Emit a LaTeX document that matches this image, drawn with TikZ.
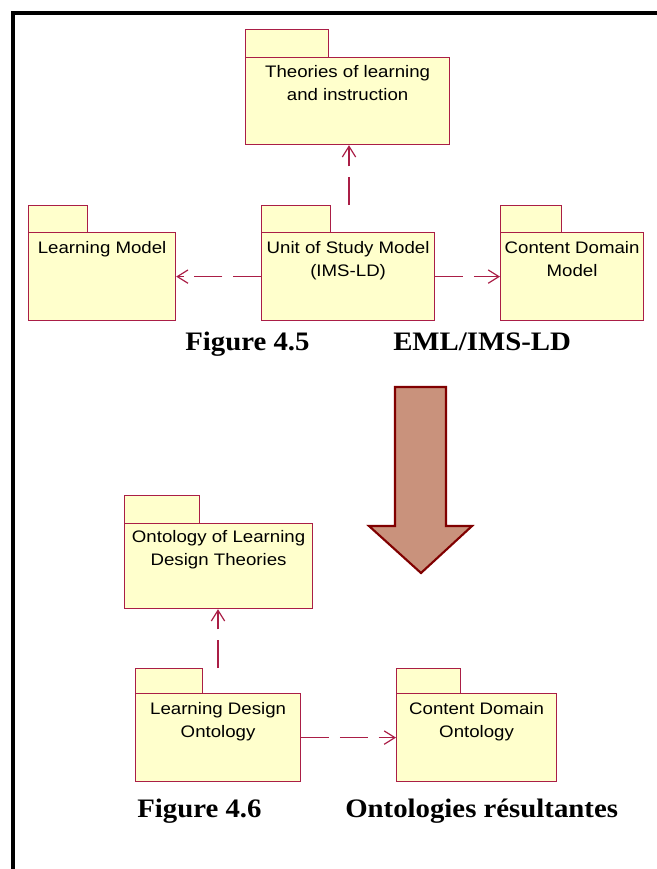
\documentclass[tikz,border=0pt]{standalone}
\usepackage{fontspec}
\usetikzlibrary{arrows.meta,calc}
\newfontfamily\boxfont[FakeStretch=1.12]{Liberation Sans}
\newfontfamily\capfont[FakeStretch=1.08]{Liberation Serif}
\definecolor{pkgline}{RGB}{170,30,70}
\definecolor{pkgfill}{RGB}{255,255,204}
\definecolor{bigfill}{RGB}{201,146,124}
\definecolor{bigline}{RGB}{128,0,0}
\tikzset{
  pkgtab/.style={draw=pkgline, fill=pkgfill, line width=0.9pt, anchor=north west, inner sep=0pt},
  pkgbody/.style={draw=pkgline, fill=pkgfill, line width=0.9pt, anchor=north west, inner sep=0pt},
  pkgtext/.style={anchor=north, inner sep=0pt, align=center, font=\boxfont\fontsize{12.5pt}{17.25pt}\selectfont},
  dep/.style={draw=pkgline, line width=0.9pt, dash pattern=on 21pt off 8pt,
    -{Straight Barb[length=8pt,width=10pt,line width=0.9pt]}},
  captext/.style={anchor=base west, inner sep=0pt, font=\capfont\bfseries\fontsize{20pt}{24pt}\selectfont},
}
\newcommand{\mkpkg}[7]{% name, x, tab top, tab w, body top, body w, body h
  \node[pkgtab, minimum width=#4*0.75pt, minimum height=(#5-#3)*0.75pt] (#1tab) at (#2,#3) {};
  \node[pkgbody, minimum width=#6*0.75pt, minimum height=#7*0.75pt] (#1) at (#2,#5) {};
}
\begin{document}
\begin{tikzpicture}[x=0.75pt,y=-0.75pt]
\useasboundingbox (0,0) rectangle (657,869);
% frame
\draw[line width=3pt] (11,13) -- (657,13);
\draw[line width=3pt] (13,11) -- (13,869);

% upper diagram
\mkpkg{theo}{245}{29}{83}{57}{204}{87}
\mkpkg{lm}{28}{205}{59}{232}{147}{88}
\mkpkg{unit}{261}{205}{69}{232}{173}{88}
\mkpkg{cdm}{500}{205}{61}{232}{143}{88}

\node[pkgtext] (theot) at ([yshift=-6pt]theo.north) {Theories of learning\\and instruction};
\node[pkgtext] (lmt) at ([yshift=-7pt]lm.north) {Learning Model};
\node[pkgtext] (unitt) at ([yshift=-7pt]unit.north) {Unit of Study Model\\(IMS-LD)};
\node[pkgtext] (cdmt) at ([yshift=-7pt]cdm.north) {Content Domain\\Model};

\coordinate (unitup) at (349,205);
\draw[dep] (unitup) -- (unitup |- theo.south);
\draw[dep] (unit.west) -- (lm.east);
\draw[dep] (unit.east) -- (cdm.west);

\node[captext] (cap1) at (185,350) {Figure 4.5};
\node[captext] (cap2) at (393,350) {EML/IMS-LD};

% big arrow
\draw[fill=bigfill, draw=bigline, line width=1.6pt, line join=miter]
  (395,387) -- (446,387) -- (446,526) -- (472,526) -- (421,573) -- (369,526) -- (395,526) -- cycle;

% lower diagram
\mkpkg{oldt}{124}{495}{75}{523}{188}{85}
\mkpkg{ldo}{135}{668}{67}{693}{165}{88}
\mkpkg{cdo}{396}{668}{64}{693}{160}{88}

\node[pkgtext] (oldtt) at ([yshift=-5.5pt]oldt.north) {Ontology of Learning\\Design Theories};
\node[pkgtext] (ldot) at ([yshift=-6.5pt]ldo.north) {Learning Design\\Ontology};
\node[pkgtext] (cdot) at ([yshift=-6.5pt]cdo.north) {Content Domain\\Ontology};

\coordinate (ldoup) at (218,668);
\draw[dep] (ldoup) -- (ldoup |- oldt.south);
\draw[dep] (ldo.east) -- (cdo.west);

\node[captext] (cap3) at (137,817) {Figure 4.6};
\node[captext] (cap4) at (345,817) {Ontologies résultantes};
\end{tikzpicture}
\end{document}
